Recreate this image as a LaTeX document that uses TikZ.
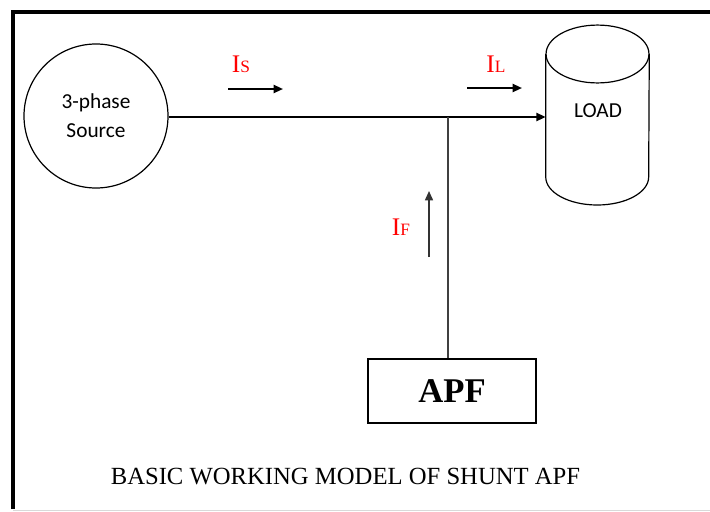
\documentclass[tikz,border=0pt]{standalone}
\usepackage{fontspec}
\setmainfont{Liberation Serif}
\newfontfamily\calibri{Carlito}
\usetikzlibrary{arrows.meta,positioning,shapes.geometric}

\begin{document}
\begin{tikzpicture}[
    x=0.75pt, y=-0.75pt,
    % Base styles
    every node/.style={inner sep=0pt},
    source/.style={draw, circle, line width=0.9pt, minimum size=108pt,
        font=\calibri\fontsize{16}{20}\selectfont, align=center},
    load/.style={rectangle, minimum width=77.25pt, minimum height=135pt,
        font=\calibri\fontsize{16}{20}\selectfont},
    apfbox/.style={draw, rectangle, line width=1.4pt,
        minimum width=126pt, minimum height=48pt,
        font=\fontsize{26}{30}\selectfont\bfseries},
    cur/.style={text=red, font=\fontsize{19}{22}\selectfont},
    flow/.style={-{Triangle[length=7pt,width=6pt]}, line width=1.5pt},
    wire/.style={line width=1.5pt},
    tap/.style={line width=1pt, draw=black!75}
]
\useasboundingbox (0,0) rectangle (710,511);

% ==================== FRAME ====================
\draw[line width=2.4pt] (13,509) -- (13,12) -- (712,12);
\draw[line width=0.6pt, draw=black!15] (13,510) -- (712,510);

% ==================== BLOCKS ====================
\node[source] (src) at (96,116) {3-phase\\[2pt]Source};
% load drawn as a cylinder round its node
\node[load] (load) at (597.5,115) {};
\draw[line width=0.9pt] (load.west |- 0,54) -- (load.west |- 0,177)
    arc[start angle=180, end angle=360, x radius=38.6pt, y radius=21pt]
    -- (load.east |- 0,54);
\draw[line width=0.9pt] (597.5,54) ellipse[x radius=38.6pt, y radius=21.7pt];
\node[font=\calibri\fontsize{16}{20}\selectfont] (loadtxt) at (598,111) {LOAD};
\node[apfbox] (apf) at (452,391) {APF};

% junction on the supply line
\coordinate (junc) at (448,117);

% ==================== CONNECTIONS ====================
\draw[flow] (src.east |- junc) -- (load.west |- junc);
\draw[tap] (junc) -- (junc |- apf.north);

% ==================== CURRENT LABELS ====================
\node[cur] (is) at (241,64) {I{\fontsize{13}{15}\selectfont S}};
\coordinate (is-a) at (228,89);
\coordinate (is-b) at (283,89);
\draw[flow] (is-a) -- (is-b);

\node[cur] (il) at (496,64) {I{\fontsize{13}{15}\selectfont L}};
\coordinate (il-a) at (467,88);
\coordinate (il-b) at (522,88);
\draw[flow] (il-a) -- (il-b);

\node[cur] (if) at (401,227) {I{\fontsize{13}{15}\selectfont F}};
\coordinate (if-a) at (429,257);
\coordinate (if-b) at (429,191);
\draw[flow, draw=black!80, line width=1.2pt] (if-a) -- (if-b);

% ==================== CAPTION ====================
\node[font=\fontsize{18.5}{22}\selectfont] (caption) at (345.5,477)
    {BASIC WORKING MODEL OF SHUNT APF};

\end{tikzpicture}
\end{document}
